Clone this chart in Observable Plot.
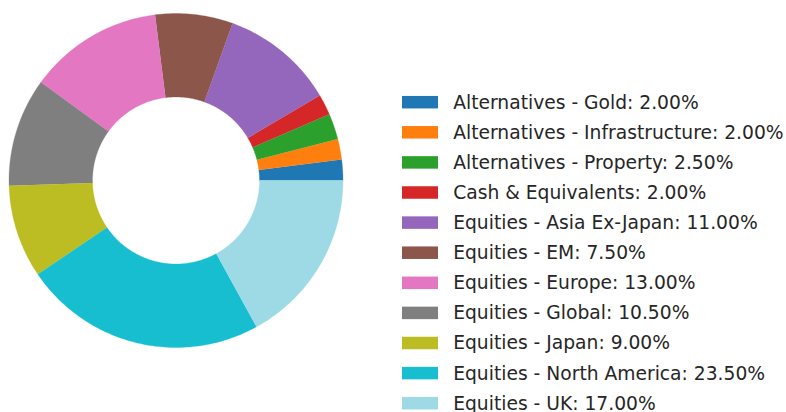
<!DOCTYPE html>
<html>
<head>
<meta charset="utf-8">
<script src="https://cdn.jsdelivr.net/npm/d3@7"></script>
<script src="https://cdn.jsdelivr.net/npm/@observablehq/plot@0.6"></script>
<style>
  html, body { margin: 0; padding: 0; background: #fff; }
  #chart svg { display: block; }
</style>
</head>
<body>
<div id="chart"></div>
<script>
// ---- Data ----
const labels = [
  "Alternatives - Gold",
  "Alternatives - Infrastructure",
  "Alternatives - Property",
  "Cash & Equivalents",
  "Equities - Asia Ex-Japan",
  "Equities - EM",
  "Equities - Europe",
  "Equities - Global",
  "Equities - Japan",
  "Equities - North America",
  "Equities - UK"
];
const values = [2.0, 2.0, 2.5, 2.0, 11.0, 7.5, 13.0, 10.5, 9.0, 23.5, 17.0];
const colors = ["#1f77b4", "#ff7f0e", "#2ca02c", "#d62728", "#9467bd", "#8c564b",
                "#e377c2", "#7f7f7f", "#bcbd22", "#17becf", "#9edae5"];

// ---- Layout ----
const W = 786, H = 412;
const cx = 175.5, cy = 180, R = 167, r = 83.5;
const legX0 = 402, legX1 = 438, legTextX = 452.7, legY0 = 102.2, legStep = 30.1, legH = 12.5;

// Build donut wedge polygons (matplotlib style: start at 3 o'clock, counterclockwise)
const total = d3.sum(values);
const pts = [];
let acc = 0;
labels.forEach((lab, i) => {
  const a0 = acc / total * 2 * Math.PI;
  acc += values[i];
  const a1 = acc / total * 2 * Math.PI;
  const n = Math.max(4, Math.ceil((a1 - a0) / (Math.PI / 180)));
  for (let k = 0; k <= n; k++) {
    const t = a0 + (a1 - a0) * k / n;
    pts.push({key: lab, x: cx + R * Math.cos(t), y: cy - R * Math.sin(t)});
  }
  for (let k = n; k >= 0; k--) {
    const t = a0 + (a1 - a0) * k / n;
    pts.push({key: lab, x: cx + r * Math.cos(t), y: cy - r * Math.sin(t)});
  }
});

const legend = labels.map((lab, i) => ({
  key: lab,
  text: `${lab}: ${values[i].toFixed(2)}%`,
  y: legY0 + i * legStep
}));

const chart = Plot.plot({
  width: W,
  height: H,
  margin: 0,
  x: {domain: [0, W], range: [0, W], axis: null},
  y: {domain: [0, H], range: [0, H], axis: null},
  color: {domain: labels, range: colors},
  style: {background: "#fff"},
  marks: [
    Plot.line(pts, {x: "x", y: "y", z: "key", fill: "key", stroke: "key", strokeWidth: 0.3, curve: "linear"}),
    Plot.rect(legend, {
      x1: () => legX0, x2: () => legX1,
      y1: d => d.y - legH / 2, y2: d => d.y + legH / 2,
      fill: "key"
    }),
    Plot.text(legend, {
      x: () => legTextX, y: "y", text: "text",
      textAnchor: "start", fontSize: 18.7,
      fontFamily: "DejaVu Sans", fill: "#262626"
    })
  ]
});
document.getElementById("chart").appendChild(chart);
</script>
</body>
</html>
